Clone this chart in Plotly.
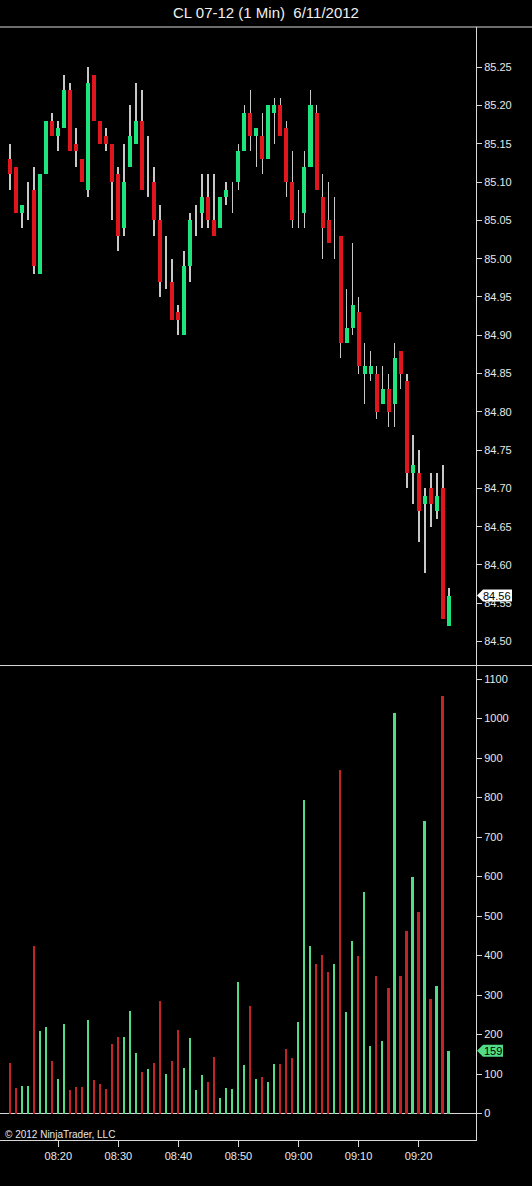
import pandas as pd
import plotly.graph_objects as go

# 1 minute CL bars, 08:12 .. 09:25
start = "2012-06-11 08:12"
opens = [85.13, 85.12, 85.06, 85.07, 85.09, 84.98, 85.11, 85.18, 85.16, 85.17,
         85.22, 85.15, 85.13, 85.09, 85.24, 85.18, 85.16, 85.15, 85.11, 85.04,
         85.12, 85.15, 85.18, 85.10, 85.10, 85.05, 84.97, 84.97, 84.93, 84.90,
         84.99, 85.05, 85.06, 85.08, 85.05, 85.04, 85.08, 85.09, 85.10, 85.14,
         85.19, 85.16, 85.16, 85.13, 85.19, 85.20, 85.17, 85.10, 85.06, 85.06,
         85.12, 85.19, 85.08, 85.05, 85.02, 85.03, 84.89, 84.91, 84.93, 84.85,
         84.85, 84.85, 84.81, 84.83, 84.81, 84.88, 84.84, 84.72, 84.72, 84.68,
         84.70, 84.67, 84.70, 84.52]
highs = [85.15, 85.12, 85.07, 85.10, 85.12, 85.11, 85.18, 85.19, 85.18, 85.24,
         85.23, 85.17, 85.13, 85.25, 85.24, 85.18, 85.17, 85.15, 85.12, 85.15,
         85.20, 85.23, 85.22, 85.16, 85.12, 85.07, 85.03, 85.00, 84.94, 85.01,
         85.06, 85.07, 85.11, 85.11, 85.11, 85.08, 85.10, 85.10, 85.15, 85.20,
         85.22, 85.17, 85.19, 85.20, 85.21, 85.21, 85.18, 85.14, 85.09, 85.14,
         85.22, 85.20, 85.11, 85.10, 85.08, 85.03, 84.96, 85.02, 84.95, 84.89,
         84.88, 84.86, 84.86, 84.85, 84.89, 84.88, 84.85, 84.77, 84.75, 84.70,
         84.72, 84.72, 84.73, 84.57]
lows = [85.09, 85.06, 85.04, 85.05, 84.98, 84.98, 85.11, 85.16, 85.14, 85.17,
        85.14, 85.12, 85.10, 85.08, 85.18, 85.15, 85.14, 85.05, 85.01, 85.03,
        85.12, 85.15, 85.09, 85.08, 85.03, 84.95, 84.96, 84.92, 84.90, 84.90,
        84.97, 85.03, 85.04, 85.04, 85.03, 85.04, 85.07, 85.06, 85.09, 85.14,
        85.14, 85.12, 85.11, 85.13, 85.15, 85.16, 85.08, 85.04, 85.04, 85.04,
        85.12, 85.09, 85.00, 85.02, 85.00, 84.87, 84.89, 84.90, 84.85, 84.81,
        84.84, 84.79, 84.81, 84.78, 84.78, 84.83, 84.70, 84.68, 84.63, 84.59,
        84.65, 84.66, 84.53, 84.52]
closes = [85.11, 85.06, 85.07, 85.07, 84.99, 85.11, 85.18, 85.16, 85.17, 85.22,
          85.14, 85.14, 85.10, 85.23, 85.18, 85.15, 85.15, 85.10, 85.03, 85.10,
          85.16, 85.18, 85.09, 85.10, 85.05, 84.97, 84.97, 84.92, 84.92, 84.99,
          85.05, 85.05, 85.08, 85.05, 85.03, 85.08, 85.09, 85.09, 85.14, 85.19,
          85.16, 85.17, 85.13, 85.20, 85.20, 85.16, 85.10, 85.05, 85.06, 85.12,
          85.20, 85.09, 85.04, 85.02, 85.02, 84.89, 84.91, 84.94, 84.86, 84.86,
          84.86, 84.80, 84.83, 84.80, 84.87, 84.85, 84.72, 84.73, 84.67, 84.69,
          84.68, 84.69, 84.53, 84.56]
volumes = [129, 64, 70, 70, 425, 209, 220, 133, 87, 227,
           60, 66, 66, 237, 85, 75, 61, 176, 193, 193,
           260, 154, 106, 112, 129, 285, 100, 132, 212, 115,
           191, 60, 98, 81, 144, 39, 65, 62, 334, 123,
           273, 87, 93, 79, 126, 126, 164, 141, 232, 793,
           425, 379, 402, 358, 379, 869, 256, 438, 398, 560,
           171, 347, 184, 318, 1014, 347, 463, 598, 509, 740,
           291, 323, 1057, 159]

price_ticks = [85.25, 85.20, 85.15, 85.10, 85.05, 85.00, 84.95, 84.90,
               84.85, 84.80, 84.75, 84.70, 84.65, 84.60, 84.55, 84.50]
vol_ticks = [0, 100, 200, 300, 400, 500, 600, 700, 800, 900, 1000, 1100]
time_ticks = ["08:20", "08:30", "08:40", "08:50", "09:00", "09:10", "09:20"]

times = pd.date_range(start, periods=len(closes), freq="min")
df = pd.DataFrame({"t": times, "o": opens, "h": highs, "l": lows,
                   "c": closes, "v": volumes})
df["up"] = df["c"] >= df["o"]

GREEN = "#1de47c"
RED = "#e0161c"
VGREEN = "#52dc88"
VRED = "#c42424"
WICK = "#c8c8c8"
AX = "#d8d8d8"
FONT = "Liberation Sans, Arial, sans-serif"

fig = go.Figure()

# wicks
fig.add_trace(go.Bar(
    x=df["t"], y=df["h"] - df["l"], base=df["l"], width=9000,
    marker=dict(color=WICK, line=dict(width=0)), yaxis="y", showlegend=False,
))
# bodies
fig.add_trace(go.Bar(
    x=df["t"], y=(df["c"] - df["o"]).abs(), base=df[["o", "c"]].min(axis=1),
    width=40000,
    marker=dict(color=[GREEN if u else RED for u in df["up"]], line=dict(width=0)),
    yaxis="y", showlegend=False,
))
# volume
fig.add_trace(go.Bar(
    x=df["t"], y=df["v"], width=19000,
    marker=dict(color=[VGREEN if u else VRED for u in df["up"]], line=dict(width=0)),
    yaxis="y2", showlegend=False,
))

day = "2012-06-11 "
last_c = closes[-1]
last_v = volumes[-1]

fig.update_layout(
    width=532, height=1186,
    margin=dict(l=0, r=56, t=27, b=46),
    paper_bgcolor="black", plot_bgcolor="black",
    barmode="overlay", bargap=0,
    font=dict(family=FONT, size=11, color="#e8e8e8"),
    title=dict(text="CL 07-12 (1 Min)  6/11/2012", x=0.5, xref="container",
               xanchor="center", y=1 - 13 / 1186, yanchor="middle",
               font=dict(size=15, color="#f0f0f0", family=FONT)),
    xaxis=dict(
        type="date", anchor="y2",
        range=[day + "08:10:17", day + "09:29:34"],
        tickvals=[day + t for t in time_ticks], ticktext=time_ticks,
        ticks="outside", ticklen=6, tickcolor=AX,
        showline=True, linecolor=AX, linewidth=1,
        showgrid=False, zeroline=False,
        tickfont=dict(size=11, color="#e8e8e8"),
    ),
    yaxis=dict(
        domain=[0.4268, 1], anchor="x", side="right",
        range=[84.4694, 85.3025],
        tickvals=price_ticks, ticktext=[f"{p:.2f}" for p in price_ticks],
        ticks="outside", ticklen=5, tickcolor=AX,
        showline=True, linecolor=AX, linewidth=1,
        showgrid=False, zeroline=False,
    ),
    yaxis2=dict(
        domain=[0, 0.4259], anchor="x", side="right",
        range=[-67, 1133],
        tickvals=vol_ticks, ticktext=[str(v) for v in vol_ticks],
        ticks="outside", ticklen=5, tickcolor=AX,
        showline=True, linecolor=AX, linewidth=1,
        showgrid=False, zeroline=True, zerolinecolor=AX, zerolinewidth=1,
    ),
    shapes=[
        dict(type="line", xref="paper", yref="paper", x0=0, x1=532 / 476,
             y0=1, y1=1, line=dict(color=AX, width=1)),
        dict(type="line", xref="paper", yref="paper", x0=0, x1=532 / 476,
             y0=0.4263, y1=0.4263, line=dict(color=AX, width=1)),
        # last price marker
        dict(type="path", xref="paper", yref="y", xsizemode="pixel",
             ysizemode="pixel", xanchor=1, yanchor=last_c,
             path="M 1,0 L 7,6 L 36,6 L 36,-6 L 7,-6 Z",
             fillcolor="white", line=dict(width=0)),
        # last volume marker
        dict(type="path", xref="paper", yref="y2", xsizemode="pixel",
             ysizemode="pixel", xanchor=1, yanchor=last_v,
             path="M 1,0 L 7,6 L 27,6 L 27,-6 L 7,-6 Z",
             fillcolor=VGREEN, line=dict(width=0)),
    ],
    annotations=[
        dict(text=f"{last_c:.2f}", xref="paper", yref="y", x=1, y=last_c,
             xshift=21, xanchor="center", yanchor="middle", showarrow=False,
             font=dict(size=11, color="black")),
        dict(text=str(last_v), xref="paper", yref="y2", x=1, y=last_v,
             xshift=17, xanchor="center", yanchor="middle", showarrow=False,
             font=dict(size=11, color="black")),
        dict(text="© 2012 NinjaTrader, LLC", xref="paper", yref="paper",
             x=3 / 476, y=6 / 1113, xanchor="left", yanchor="middle",
             showarrow=False, font=dict(size=10, color="#e8e8e8")),
    ],
)

# page has an 8px body margin by default; drop it so the chart fills the window
fig.write_html("out.html", config={"displayModeBar": False},
               post_script="document.body.style.margin='0px';"
                           "document.body.style.background='black';")
